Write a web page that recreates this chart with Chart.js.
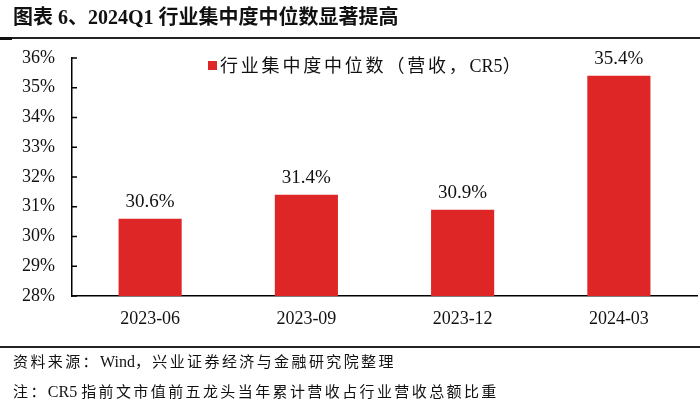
<!DOCTYPE html>
<html>
<head>
<meta charset="utf-8">
<script src="https://cdn.jsdelivr.net/npm/chart.js@4"></script>
<style>
  html, body { margin: 0; padding: 0; background: #fff; }
  #wrap { position: relative; width: 700px; height: 406px; overflow: hidden; }
  #chart { position: absolute; left: 0; top: 0; }
  .txt { position: absolute; font-family: "Liberation Serif", "Noto Sans CJK SC", serif; color: #111; white-space: nowrap; }
  .txt b { font-weight: inherit; letter-spacing: 0; }
  .foot b { font-size: 16px; }
  #title { left: 13px; top: 4px; font-size: 20px; font-weight: bold; line-height: 26px; }
  #rule1 { position: absolute; left: 0; top: 37px; width: 700px; height: 1.5px; background: #222; }
  #rule1mark { position: absolute; left: 0; top: 37px; width: 12px; height: 3px; background: #111; }
  #legend { left: 208px; top: 54px; font-size: 18px; line-height: 25px; letter-spacing: 2.8px; }
  #legend i { display: inline-block; width: 9px; height: 9px; background: #DE2626; margin-right: 3px; vertical-align: 2px; }
  #rule2 { position: absolute; left: 0; top: 346px; width: 700px; height: 1.5px; background: #222; }
  .foot { left: 13px; font-size: 15px; line-height: 20px; letter-spacing: 2.4px; }
  #src { top: 352px; }
  #note { top: 382px; }
</style>
</head>
<body>
<div id="wrap">
  <canvas id="chart" width="700" height="406"></canvas>
  <div id="title" class="txt">图表 6、2024Q1 行业集中度中位数显著提高</div>
  <div id="rule1"></div>
  <div id="rule1mark"></div>
  <div id="legend" class="txt"><i></i>行业集中度中位数（营收，<b>CR5</b>）</div>
  <div id="rule2"></div>
  <div id="src" class="txt foot">资料来源：<b>Wind</b>，兴业证券经济与金融研究院整理</div>
  <div id="note" class="txt foot">注：<b>CR5 </b>指前文市值前五龙头当年累计营收占行业营收总额比重</div>
</div>
<script>
const categories = ['2023-06', '2023-09', '2023-12', '2024-03'];
const medianCR5 = [30.6, 31.4, 30.9, 35.4];
const yMin = 28;
const yMax = 36;

const serif = '"Liberation Serif", "Noto Sans CJK SC", serif';

// small tick marks drawn inside the plot, on the right of the y axis
const innerTicks = {
  id: 'innerTicks',
  afterDraw(chart) {
    const y = chart.scales.y;
    const ctx = chart.ctx;
    ctx.save();
    ctx.strokeStyle = '#000';
    ctx.lineWidth = 1.5;
    y.ticks.forEach(function (t) {
      const py = y.getPixelForValue(t.value);
      ctx.beginPath();
      ctx.moveTo(chart.chartArea.left, py);
      ctx.lineTo(chart.chartArea.left + 5, py);
      ctx.stroke();
    });
    ctx.restore();
  }
};

// value labels above bars
const barLabels = {
  id: 'barLabels',
  afterDatasetsDraw(chart) {
    const ctx = chart.ctx;
    const meta = chart.getDatasetMeta(0);
    ctx.save();
    ctx.font = '19px ' + serif;
    ctx.fillStyle = '#111';
    ctx.textAlign = 'center';
    ctx.textBaseline = 'alphabetic';
    meta.data.forEach(function (bar, i) {
      ctx.fillText(medianCR5[i].toFixed(1) + '%', bar.x, bar.y - 12);
    });
    ctx.restore();
  }
};

new Chart(document.getElementById('chart'), {
  type: 'bar',
  data: {
    labels: categories,
    datasets: [{
      label: '行业集中度中位数（营收，CR5）',
      data: medianCR5,
      backgroundColor: '#DE2626',
      borderWidth: 0,
      categoryPercentage: 0.404,
      barPercentage: 1
    }]
  },
  options: {
    responsive: false,
    animation: false,
    layout: { padding: { top: 58, right: 3, left: 0, bottom: 0 } },
    plugins: {
      legend: { display: false },
      tooltip: { enabled: false }
    },
    scales: {
      x: {
        grid: { display: false, drawTicks: false },
        border: { display: true, color: '#000', width: 1.5 },
        ticks: { color: '#111', font: { family: serif, size: 18 }, padding: 12 },
        afterFit: function (s) { s.height = 110; }
      },
      y: {
        min: yMin,
        max: yMax,
        grid: { display: false, drawTicks: false },
        border: { display: true, color: '#000', width: 1.5 },
        ticks: {
          stepSize: 1,
          color: '#111',
          font: { family: serif, size: 18 },
          padding: 17,
          callback: function (v) { return v + '%'; }
        },
        afterFit: function (s) { s.width = 72; }
      }
    }
  },
  plugins: [innerTicks, barLabels]
});
</script>
</body>
</html>
